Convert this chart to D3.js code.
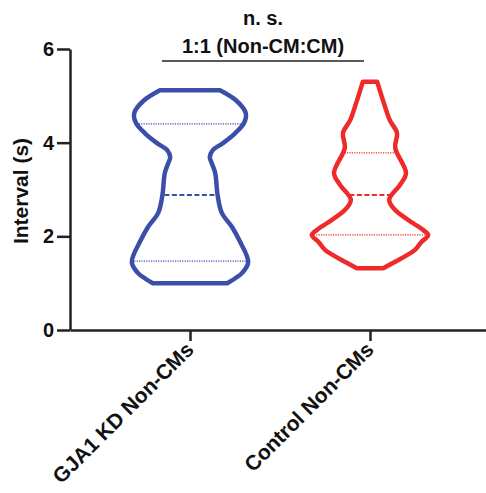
<!DOCTYPE html>
<html>
<head>
<meta charset="utf-8">
<script src="https://cdn.jsdelivr.net/npm/d3@7"></script>
<style>
  body { margin: 0; background: #fff; }
  text { font-family: "Liberation Sans", Arial, sans-serif; font-weight: bold; fill: #111; }
</style>
</head>
<body>
<div id="chart"></div>
<script>
const kWidth = 486;
const kHeight = 493;

const categories = ["GJA1 KD Non-CMs", "Control Non-CMs"];
const yTicks = [0, 2, 4, 6];

// violin outlines: value (s) and relative half-width of the density
const gjaValues = [1.00, 1.10, 1.22, 1.45, 1.92, 2.20, 2.50, 2.88, 3.35, 3.57, 3.69, 3.84, 3.99, 4.20, 4.42, 4.63, 4.90, 5.12];
const gjaWidths = [0.62, 0.75, 0.87, 0.97, 0.82, 0.70, 0.53, 0.46, 0.42, 0.36, 0.33, 0.38, 0.55, 0.75, 0.90, 0.93, 0.77, 0.50];
const ctlValues = [1.32, 1.43, 1.71, 1.87, 2.03, 2.15, 2.28, 2.56, 2.78, 3.10, 3.35, 3.89, 4.21, 4.48, 4.85, 5.30];
const ctlWidths = [0.22, 0.38, 0.75, 0.85, 0.97, 0.87, 0.72, 0.42, 0.32, 0.50, 0.60, 0.42, 0.45, 0.33, 0.23, 0.12];

// quartile, median, quartile
const gjaStats = [1.47, 2.88, 4.40];
const ctlStats = [2.03, 2.88, 3.78];

const colors = ["#3b4fa9", "#ee2a2a"];

function createSvg()
{
  return d3.select("#chart")
    .append("svg")
    .attr("width", kWidth)
    .attr("height", kHeight);
}

function drawChart(svg)
{
  const xScale = d3.scalePoint()
    .domain(categories)
    .range([70, 490])
    .padding(0.6667);

  const yScale = d3.scaleLinear()
    .domain([0, 6])
    .range([330, 49]);

  const wScale = d3.scaleLinear()
    .domain([0, 1])
    .range([0, 60]);

  // axes
  const yAxis = d3.axisLeft(yScale)
    .tickValues(yTicks)
    .tickFormat(d3.format("d"))
    .tickSizeInner(13)
    .tickSizeOuter(0)
    .tickPadding(3);

  const gy = svg.append("g")
    .attr("transform", "translate(70, 0)")
    .call(yAxis);
  gy.selectAll("path, line").attr("stroke", "#222").attr("stroke-width", 2.5);
  gy.selectAll("text")
    .style("font-size", "20px")
    .attr("fill", "#111");

  const xAxis = d3.axisBottom(xScale)
    .tickSizeInner(11)
    .tickSizeOuter(0)
    .tickFormat("");

  const gx = svg.append("g")
    .attr("transform", "translate(0, 330)")
    .call(xAxis);
  gx.selectAll("path, line").attr("stroke", "#222").attr("stroke-width", 2.5);

  svg.append("g")
    .selectAll("text")
    .data(categories)
    .enter()
    .append("text")
    .attr("transform", d => `translate(${xScale(d) + 5}, 351) rotate(-45)`)
    .attr("text-anchor", "end")
    .style("font-size", "21px")
    .text(d => d);

  svg.append("text")
    .attr("transform", "translate(28, 191) rotate(-90)")
    .attr("text-anchor", "middle")
    .style("font-size", "21px")
    .text("Interval (s)");

  // significance bracket
  svg.append("text")
    .attr("x", 263)
    .attr("y", 25)
    .attr("text-anchor", "middle")
    .style("font-size", "20px")
    .text("n. s.");

  svg.append("text")
    .attr("x", 263)
    .attr("y", 53)
    .attr("text-anchor", "middle")
    .style("font-size", "20px")
    .text("1:1 (Non-CM:CM)");

  svg.append("line")
    .attr("x1", 162).attr("x2", 364)
    .attr("y1", 61).attr("y2", 61)
    .attr("stroke", "#222")
    .attr("stroke-width", 1.6);

  // violins
  const violins = [
    { cat: categories[0], values: gjaValues, widths: gjaWidths, stats: gjaStats, color: colors[0] },
    { cat: categories[1], values: ctlValues, widths: ctlWidths, stats: ctlStats, color: colors[1] }
  ];

  violins.forEach(v => {
    const cx = xScale(v.cat);
    const pts = v.values.map((val, i) => ({ val: val, w: v.widths[i] }));

    const area = d3.area()
      .y(d => yScale(d.val))
      .x0(d => cx - wScale(d.w))
      .x1(d => cx + wScale(d.w))
      .curve(d3.curveCatmullRom);

    svg.append("path")
      .datum(pts)
      .attr("d", area)
      .attr("fill", "none")
      .attr("stroke", v.color)
      .attr("stroke-width", 4.5)
      .attr("stroke-linejoin", "round");

    const halfAt = d3.scaleLinear().domain(v.values).range(v.widths);

    v.stats.forEach((s, i) => {
      const hw = wScale(halfAt(s)) - 2;
      svg.append("line")
        .attr("x1", cx - hw).attr("x2", cx + hw)
        .attr("y1", yScale(s)).attr("y2", yScale(s))
        .attr("stroke", v.color)
        .attr("stroke-width", i === 1 ? 2 : 1.2)
        .attr("stroke-dasharray", i === 1 ? "5,2.5" : "1.2,1.2");
    });
  });
}

document.addEventListener("DOMContentLoaded", () => {
  const svg = createSvg();
  drawChart(svg);
});
</script>
</body>
</html>
